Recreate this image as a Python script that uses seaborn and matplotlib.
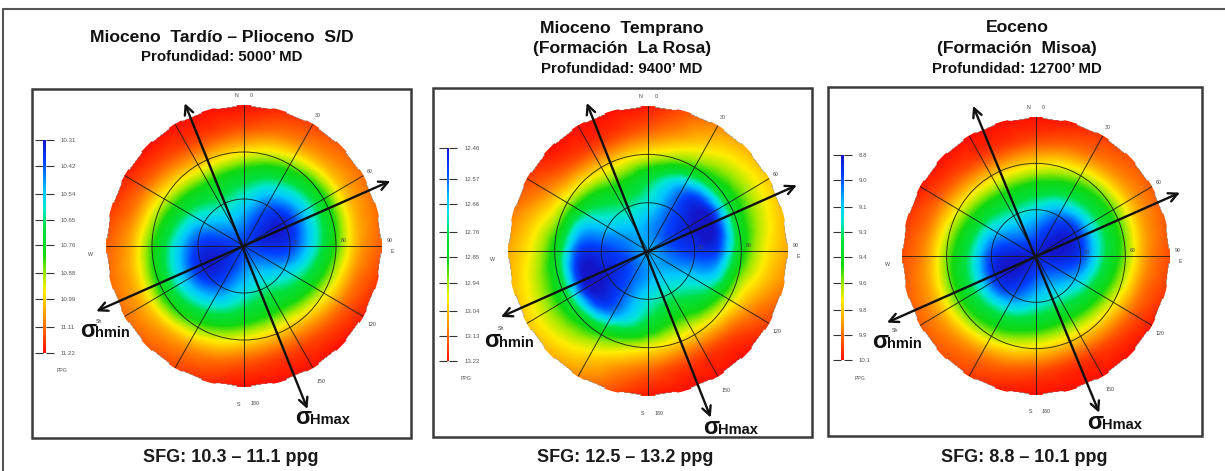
import numpy as np
import matplotlib
matplotlib.use("Agg")
import matplotlib.pyplot as plt
import matplotlib.tri as mtri
from matplotlib.patches import Rectangle, Circle
from matplotlib.lines import Line2D
from matplotlib.cm import ScalarMappable
from matplotlib.colors import Normalize, LinearSegmentedColormap
import seaborn as sns

sns.set_style("white")
plt.rcParams['font.family'] = ['Liberation Sans', 'DejaVu Sans']

W, H = 1225, 471

# --- data ---
AZIMUTH = [0, 15, 30, 45, 60, 75, 90, 105, 120, 135, 150, 165]   # deg, repeats +180
INCLINATION = [0, 15, 30, 45, 60, 75, 90]                        # deg

# mud weight (ppg) at [azimuth, inclination]
MW_1 = [[10.40, 10.47, 10.58, 10.74, 10.96, 11.14, 11.22],
        [10.40, 10.43, 10.52, 10.68, 10.91, 11.10, 11.19],
        [10.40, 10.39, 10.44, 10.62, 10.86, 11.07, 11.16],
        [10.40, 10.36, 10.38, 10.57, 10.81, 11.04, 11.13],
        [10.40, 10.34, 10.34, 10.54, 10.78, 11.02, 11.11],
        [10.40, 10.34, 10.35, 10.55, 10.79, 11.02, 11.11],
        [10.40, 10.36, 10.39, 10.58, 10.82, 11.04, 11.13],
        [10.40, 10.40, 10.45, 10.64, 10.87, 11.08, 11.17],
        [10.40, 10.44, 10.53, 10.70, 10.92, 11.11, 11.20],
        [10.40, 10.47, 10.59, 10.75, 10.97, 11.14, 11.22],
        [10.40, 10.49, 10.63, 10.78, 11.00, 11.16, 11.22],
        [10.40, 10.49, 10.62, 10.77, 10.99, 11.16, 11.22]]

MW_2 = [[12.62, 12.61, 12.69, 12.79, 12.99, 13.14, 13.21],
        [12.62, 12.59, 12.63, 12.70, 12.94, 13.09, 13.16],
        [12.62, 12.57, 12.56, 12.60, 12.88, 13.02, 13.10],
        [12.62, 12.55, 12.51, 12.52, 12.83, 12.97, 13.06],
        [12.62, 12.54, 12.48, 12.47, 12.80, 12.95, 13.04],
        [12.62, 12.54, 12.49, 12.48, 12.81, 12.96, 13.05],
        [12.62, 12.56, 12.52, 12.54, 12.84, 12.99, 13.07],
        [12.62, 12.58, 12.58, 12.63, 12.90, 13.03, 13.11],
        [12.62, 12.60, 12.65, 12.73, 12.95, 13.10, 13.17],
        [12.62, 12.62, 12.70, 12.81, 13.00, 13.16, 13.22],
        [12.62, 12.63, 12.73, 12.86, 13.03, 13.18, 13.22],
        [12.62, 12.63, 12.72, 12.85, 13.02, 13.17, 13.22]]

MW_3 = [[8.84, 8.97, 9.17, 9.45, 9.75, 10.00, 10.10],
        [8.84, 8.92, 9.09, 9.40, 9.70, 9.96, 10.08],
        [8.84, 8.87, 9.00, 9.34, 9.64, 9.92, 10.03],
        [8.84, 8.83, 8.92, 9.29, 9.59, 9.88, 9.99],
        [8.84, 8.80, 8.88, 9.26, 9.56, 9.85, 9.97],
        [8.84, 8.80, 8.88, 9.26, 9.56, 9.85, 9.97],
        [8.84, 8.83, 8.92, 9.29, 9.59, 9.88, 10.00],
        [8.84, 8.88, 9.00, 9.34, 9.64, 9.92, 10.03],
        [8.84, 8.93, 9.09, 9.40, 9.70, 9.96, 10.08],
        [8.84, 8.97, 9.17, 9.45, 9.75, 10.00, 10.10],
        [8.84, 9.00, 9.21, 9.48, 9.78, 10.03, 10.10],
        [8.84, 9.00, 9.21, 9.48, 9.78, 10.03, 10.10]]

CBAR_TICKS_1 = [10.31, 10.42, 10.54, 10.65, 10.76, 10.88, 10.99, 11.11, 11.22]
CBAR_TICKS_2 = [12.46, 12.57, 12.66, 12.76, 12.85, 12.94, 13.04, 13.13, 13.22]
CBAR_TICKS_3 = [8.8, 8.96, 9.13, 9.29, 9.45, 9.61, 9.78, 9.94, 10.1]

# stress arrows: (azimuth, end radius) of both heads
SHMAX_1 = [(337.0, 99), (158.3, 112)]
SHMIN_1 = [(66.5, 104), (246.6, 105)]
SHMAX_2 = [(336.8, 100), (158.7, 111)]
SHMIN_2 = [(66.9, 104), (246.6, 103)]
SHMAX_3 = [(336.5, 106), (157.3, 110)]
SHMIN_3 = [(67.0, 105), (246.7, 109)]

TITLES = [["Mioceno  Tardío – Plioceno  S/D", "Profundidad: 5000’ MD"],
          ["Mioceno  Temprano", "(Formación  La Rosa)", "Profundidad: 9400’ MD"],
          ["Eoceno", "(Formación  Misoa)", "Profundidad: 12700’ MD"]]
SFG = ["SFG: 10.3 – 11.1 ppg", "SFG: 12.5 – 13.2 ppg", "SFG: 8.8 – 10.1 ppg"]

# small compass / inclination labels (text, azimuth, radius)
COMPASS = [("N", -3, 96), ("0", 3, 96), ("30", 30, 96), ("60", 60, 95),
           ("90", 88, 95), ("E", 92, 97), ("120", 121, 97), ("150", 150, 100),
           ("S", 182, 101), ("180", 176, 101), ("W", 267, 100), ("Sh", 243, 106),
           ("30", 86, 34), ("60", 87, 65)]

cmap = LinearSegmentedColormap.from_list("mw", [
    (0.00, "#1414c8"), (0.10, "#0040ff"), (0.24, "#00c8ff"), (0.32, "#00e8d0"),
    (0.41, "#00e040"), (0.54, "#10d810"), (0.63, "#a0ea00"), (0.71, "#ffee00"),
    (0.83, "#ff9400"), (1.00, "#ff1000")])


def fx(px):
    return px / W


def fy(py):
    return 1 - py / H


fig = plt.figure(figsize=(W / 100, H / 100), dpi=100)

# outer frame
fig.add_artist(Line2D([fx(3), fx(3)], [0, fy(9)], color="#555555", lw=1.5))
fig.add_artist(Line2D([fx(3), 1], [fy(9), fy(9)], color="#555555", lw=1.5))

panels = [
    dict(mw=MW_1, ticks=CBAR_TICKS_1, fmt="%.2f", smax=SHMAX_1, smin=SHMIN_1,
         box=(32, 89, 411, 438), c=(244, 246), rx=138, ry=141,
         cbar=(44, 140, 353), tx=222, ty=[38, 57], sfg=(231, 457),
         lmin=(80, 337), lmax=(295, 424)),
    dict(mw=MW_2, ticks=CBAR_TICKS_2, fmt="%.2f", smax=SHMAX_2, smin=SHMIN_2,
         box=(433, 88, 812, 437), c=(648, 251), rx=140, ry=145,
         cbar=(448, 148, 361), tx=622, ty=[28, 48, 69], sfg=(625, 457),
         lmin=(484, 347), lmax=(703, 434)),
    dict(mw=MW_3, ticks=CBAR_TICKS_3, fmt="%.1f", smax=SHMAX_3, smin=SHMIN_3,
         box=(828, 87, 1202, 436), c=(1036, 256), rx=134, ry=139,
         cbar=(842, 155, 360), tx=1017, ty=[28, 48, 69], sfg=(1024, 457),
         lmin=(872, 348), lmax=(1087, 429)),
]

az_full = np.deg2rad(np.r_[AZIMUTH, np.array(AZIMUTH) + 180])
incl = np.array(INCLINATION, dtype=float)
grid = np.linspace(-90, 90, 361)
GX, GY = np.meshgrid(grid, grid)
GR = np.hypot(GX, GY)
scale = np.where(GR > 89.5, 89.5 / np.maximum(GR, 1e-9), 1.0)

for i, p in enumerate(panels):
    x0, y0, x1, y1 = p["box"]
    fig.add_artist(Rectangle((fx(x0), fy(y1)), (x1 - x0) / W, (y1 - y0) / H,
                             transform=fig.transFigure, fill=False,
                             edgecolor="#3a3a3a", lw=1.8))

    mw = np.array(p["mw"])
    full = np.vstack([mw, mw])                     # central symmetry
    A, R = np.meshgrid(az_full, incl[1:], indexing="ij")
    px = np.r_[0.0, (R * np.sin(A)).ravel()]
    py = np.r_[0.0, (R * np.cos(A)).ravel()]
    pz = np.r_[mw[:, 0].mean(), full[:, 1:].ravel()]
    tri = mtri.Triangulation(px, py)
    interp = mtri.CubicTriInterpolator(tri, pz, kind="geom")
    Z = interp(GX * scale, GY * scale)
    norm = Normalize(p["ticks"][0], p["ticks"][-1])

    cx, cy = p["c"]
    rx, ry = p["rx"], p["ry"]
    rect = [fx(cx - rx), fy(cy + ry), 2 * rx / W, 2 * ry / H]

    axi = fig.add_axes(rect)
    im = axi.imshow(Z, extent=(-90, 90, -90, 90), origin="lower", cmap=cmap,
                    norm=norm, interpolation="bilinear", aspect="auto")
    im.set_clip_path(Circle((0, 0), 90, transform=axi.transData))
    axi.set_xlim(-90, 90)
    axi.set_ylim(-90, 90)
    axi.axis("off")

    ax = fig.add_axes(rect, projection="polar")
    ax.set_theta_zero_location("N")
    ax.set_theta_direction(-1)
    ax.set_ylim(0, 90)
    ax.set_aspect("auto")
    ax.set_rgrids([30, 60], labels=[])
    ax.set_thetagrids(range(0, 360, 30), labels=[])
    ax.grid(True, color="#1a1a1a", lw=0.7, alpha=0.85)
    ax.spines["polar"].set_visible(False)
    ax.set_facecolor("none")

    for txt, az, r in COMPASS:
        ax.text(np.deg2rad(az), r, txt, fontsize=3.8, color="#444444",
                ha="center", va="center", clip_on=False)

    for (a1, r1), (a2, r2) in [p["smax"], p["smin"]]:
        ax.annotate("", xy=(np.deg2rad(a1), r1), xytext=(np.deg2rad(a2), r2),
                    arrowprops=dict(arrowstyle="<->", color="#111111", lw=1.7,
                                    mutation_scale=16, shrinkA=0, shrinkB=0),
                    annotation_clip=False)

    # colorbar
    bx, bt, bb = p["cbar"]
    cax = fig.add_axes([fx(bx - 1.5), fy(bb), 3 / W, (bb - bt) / H])
    cb = fig.colorbar(ScalarMappable(norm=norm, cmap=cmap), cax=cax,
                      ticks=p["ticks"])
    cb.outline.set_visible(False)
    cb.set_ticklabels([p["fmt"] % t for t in p["ticks"]])
    cax.invert_yaxis()
    cax.tick_params(axis="y", left=True, right=True, direction="out",
                    length=6, width=0.8, color="#333333", labelsize=4.4,
                    labelcolor="#555555", pad=5)
    fig.text(fx(bx + 13), fy(bb + 18), "PPG", fontsize=3.8, color="#555555",
             ha="left", va="center")

    # titles
    for j, (line, ty) in enumerate(zip(TITLES[i], p["ty"])):
        last = j == len(TITLES[i]) - 1
        fig.text(fx(p["tx"]), fy(ty), line, ha="center", va="center",
                 fontsize=10.8 if last else 12.6, fontweight="bold",
                 color="#111111")

    fig.text(fx(p["sfg"][0]), fy(p["sfg"][1]), SFG[i], ha="center",
             va="center", fontsize=13, fontweight="bold", color="#1a1a1a")

    # stress labels
    for (lx, ly), sub in [(p["lmin"], "hmin"), (p["lmax"], "Hmax")]:
        fig.text(fx(lx), fy(ly), "σ", fontsize=17, fontweight="bold",
                 ha="left", va="baseline", color="#111111")
        fig.text(fx(lx + 15), fy(ly), sub, fontsize=10.5, fontweight="bold",
                 ha="left", va="baseline", color="#111111")

fig.savefig("out.png", dpi=100, facecolor="white")
